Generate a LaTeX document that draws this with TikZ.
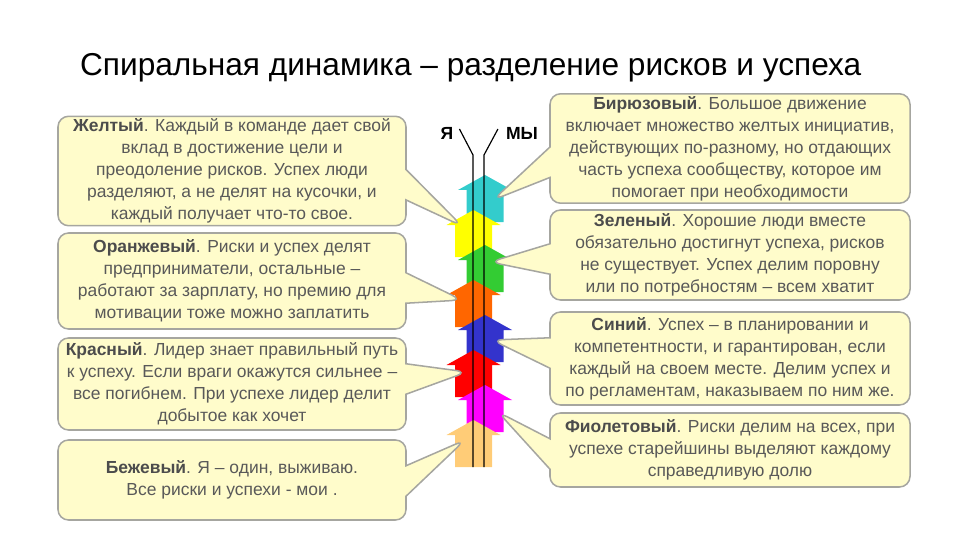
\documentclass[tikz,border=0pt]{standalone}
\usepackage{fontspec}
\setmainfont{Liberation Sans}
\usetikzlibrary{shapes.callouts}

\definecolor{boxfill}{HTML}{FFFCCB}
\definecolor{boxline}{HTML}{A6A6A0}
\definecolor{txtgray}{HTML}{595959}
\definecolor{cturq}{HTML}{33CCCC}
\definecolor{cyell}{HTML}{FFFF00}
\definecolor{cgreen}{HTML}{33CC33}
\definecolor{corange}{HTML}{FF6600}
\definecolor{cblue}{HTML}{3333CC}
\definecolor{cred}{HTML}{FF0000}
\definecolor{cmag}{HTML}{FF00FF}
\definecolor{cbeige}{HTML}{FFCC77}

\newcommand{\notetag}[1]{\textbf{\color{black!70}#1}}

\tikzset{
  note/.style={rectangle callout, rounded corners=9pt, fill=boxfill, draw=boxline,
    line width=1.3pt, align=center, text=txtgray, font=\fontsize{14.9}{18.8}\selectfont,
    inner sep=2pt, callout pointer width=26pt},
  axisline/.style={line width=1pt, black},
}

\begin{document}
\begin{tikzpicture}[x=0.03cm, y=-0.03cm]
    \useasboundingbox (0,0) rectangle (960,540);

    \node[anchor=west, font=\fontsize{27}{32}\selectfont] (title) at (76,68)
        {Спиральная динамика – разделение рисков и успеха};

    % arrows, top one first
    \foreach \cx/\ty/\col in {485/175/cturq, 473.5/210/cyell, 485/245/cgreen,
        473.5/280/corange, 485/315/cblue, 473.5/350/cred, 485/385/cmag, 473.5/420/cbeige}
      \fill[\col] (\cx,\ty) -- (\cx+27,\ty+15) -- (\cx+18.5,\ty+15) -- (\cx+18.5,\ty+47)
          -- (\cx-18.5,\ty+47) -- (\cx-18.5,\ty+15) -- (\cx-27,\ty+15) -- cycle;

    % two lines
    \coordinate (ya top) at (473,155);
    \coordinate (ya end) at (473,467);
    \coordinate (my top) at (484,155);
    \coordinate (my end) at (484,467);
    \node[font=\bfseries\fontsize{15}{18}\selectfont] (ya) at (447,133) {Я};
    \node[font=\bfseries\fontsize{15}{18}\selectfont] (my) at (522,133) {МЫ};
    \draw[axisline] (ya.east) ++(2,-4) -- (ya top) -- (ya end);
    \draw[axisline] (my.west) ++(-4,-4) -- (my top) -- (my end);

    % left notes
    \node[note, minimum width=348*0.03cm, minimum height=108*0.03cm,
        callout absolute pointer={(462,226)}] (yellow) at (232,171)
        {\notetag{Желтый}. Каждый в команде дает свой\\вклад в достижение цели и\\
         преодоление рисков. Успех люди\\разделяют, а не делят на кусочки, и\\
         каждый получает что-то свое.};
    \node[note, minimum width=348*0.03cm, minimum height=96*0.03cm,
        callout absolute pointer={(462,300)}] (orange) at (232,281)
        {\notetag{Оранжевый}. Риски и успех делят\\предприниматели, остальные –\\
         работают за зарплату, но премию для\\мотивации тоже можно заплатить};
    \node[note, minimum width=348*0.03cm, minimum height=92*0.03cm,
        callout absolute pointer={(467,372)}] (red) at (232,384)
        {\notetag{Красный}. Лидер знает правильный путь\\к успеху. Если враги окажутся сильнее –\\
         все погибнем. При успехе лидер делит\\добытое как хочет};
    \node[note, minimum width=348*0.03cm, minimum height=80*0.03cm,
        callout absolute pointer={(465,440)}] (beige) at (232,480)
        {\notetag{Бежевый}. Я – один, выживаю.\\Все риски и успехи - мои .};

    % right notes
    \node[note, minimum width=360*0.03cm, minimum height=103*0.03cm,
        callout absolute pointer={(493,200)}] (turq) at (730,148.5)
        {\notetag{Бирюзовый}. Большое движение\\включает множество желтых инициатив,\\
         действующих по-разному, но отдающих\\часть успеха сообществу, которое им\\
         помогает при необходимости};
    \node[note, minimum width=360*0.03cm, minimum height=90*0.03cm,
        callout absolute pointer={(490,262)}] (green) at (730,255)
        {\notetag{Зеленый}. Хорошие люди вместе\\обязательно достигнут успеха, рисков\\
         не существует. Успех делим поровну\\или по потребностям – всем хватит};
    \node[note, minimum width=360*0.03cm, minimum height=93*0.03cm,
        callout absolute pointer={(492,340)}] (blue) at (730,358.5)
        {\notetag{Синий}. Успех – в планировании и\\компетентности, и гарантирован, если\\
         каждый на своем месте. Делим успех и\\по регламентам, наказываем по ним же.};
    \node[note, minimum width=360*0.03cm, minimum height=74*0.03cm,
        callout absolute pointer={(498,412)}] (violet) at (730,450)
        {\notetag{Фиолетовый}. Риски делим на всех, при\\успехе старейшины выделяют каждому\\
         справедливую долю};
\end{tikzpicture}
\end{document}
